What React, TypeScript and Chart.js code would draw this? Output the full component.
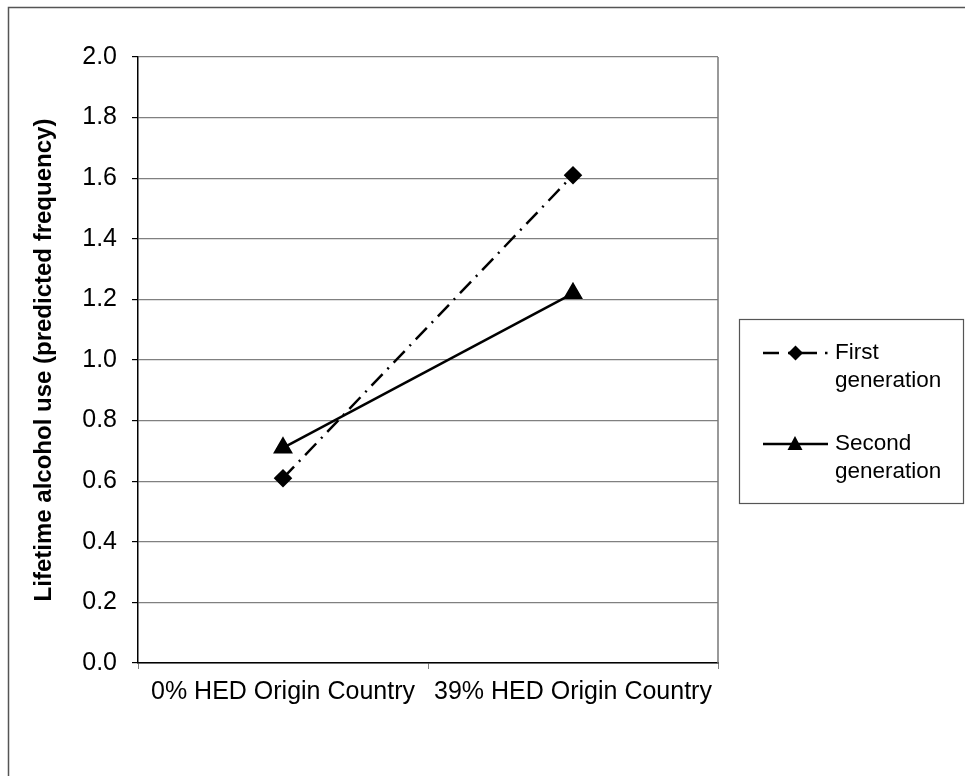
import React, { useEffect, useRef } from "react";
import { Chart, registerables } from "chart.js";

Chart.register(...registerables);

const categories = ["0% HED Origin Country", "39% HED Origin Country"];
const firstGeneration = [0.61, 1.61];
const secondGeneration = [0.71, 1.22];
const yTicks = [0, 0.2, 0.4, 0.6, 0.8, 1.0, 1.2, 1.4, 1.6, 1.8, 2.0];
const seriesNames = ["First generation", "Second generation"];
const yTitle = "Lifetime alcohol use (predicted frequency)";

const FONT = "'Liberation Sans', Arial, sans-serif";

export default function App() {
  const ref = useRef<HTMLCanvasElement | null>(null);

  useEffect(() => {
    const canvas = ref.current;
    if (!canvas) return;

    const decor = {
      id: "decor",
      afterDraw(chart: any) {
        const ctx = chart.ctx;
        const a = chart.chartArea;
        ctx.save();
        // outer frame (top and left visible)
        ctx.strokeStyle = "#555";
        ctx.lineWidth = 1.5;
        ctx.beginPath();
        ctx.moveTo(8.5, 800);
        ctx.lineTo(8.5, 7.5);
        ctx.lineTo(1000, 7.5);
        ctx.stroke();
        // plot right border
        ctx.strokeStyle = "#777";
        ctx.lineWidth = 1.5;
        ctx.beginPath();
        ctx.moveTo(a.right, a.top);
        ctx.lineTo(a.right, a.bottom);
        ctx.stroke();

        // legend box
        const lx = 739, ly = 319, lw = 224, lh = 184;
        ctx.strokeStyle = "#555";
        ctx.lineWidth = 1.2;
        ctx.strokeRect(lx + 0.5, ly + 0.5, lw, lh);

        ctx.fillStyle = "#000";
        ctx.font = `22.5px ${FONT}`;
        ctx.textBaseline = "middle";
        ctx.textAlign = "left";

        // first generation entry: dash, diamond over dash, dot
        const y1 = 353;
        ctx.strokeStyle = "#000";
        ctx.lineWidth = 2.5;
        ctx.beginPath();
        ctx.moveTo(763, y1);
        ctx.lineTo(779, y1);
        ctx.moveTo(788, y1);
        ctx.lineTo(817, y1);
        ctx.moveTo(825, y1);
        ctx.lineTo(827.5, y1);
        ctx.stroke();
        ctx.beginPath();
        ctx.moveTo(795.5, y1 - 7.5);
        ctx.lineTo(803, y1);
        ctx.lineTo(795.5, y1 + 7.5);
        ctx.lineTo(788, y1);
        ctx.closePath();
        ctx.fill();
        const parts1 = seriesNames[0].split(" ");
        ctx.fillText(parts1[0], 835, y1);
        ctx.fillText(parts1[1], 835, y1 + 28);

        // second generation entry
        const y2 = 444;
        ctx.beginPath();
        ctx.moveTo(763, y2);
        ctx.lineTo(828, y2);
        ctx.stroke();
        ctx.beginPath();
        ctx.moveTo(795, y2 - 8);
        ctx.lineTo(802.5, y2 + 6);
        ctx.lineTo(787.5, y2 + 6);
        ctx.closePath();
        ctx.fill();
        const parts2 = seriesNames[1].split(" ");
        ctx.fillText(parts2[0], 835, y2);
        ctx.fillText(parts2[1], 835, y2 + 28);
        ctx.restore();
      },
    };

    const chart = new Chart(canvas, {
      type: "line",
      data: {
        labels: categories,
        datasets: [
          {
            label: seriesNames[0],
            data: firstGeneration,
            borderColor: "#000",
            backgroundColor: "#000",
            borderWidth: 2.5,
            borderDash: [16, 7, 2, 7],
            pointStyle: "rectRot",
            pointRadius: 7.5,
            pointHoverRadius: 7.5,
            tension: 0,
          },
          {
            label: seriesNames[1],
            data: secondGeneration,
            borderColor: "#000",
            backgroundColor: "#000",
            borderWidth: 2.5,
            pointStyle: "triangle",
            pointRadius: 9,
            pointHoverRadius: 9,
            tension: 0,
          },
        ],
      },
      options: {
        responsive: false,
        animation: false,
        devicePixelRatio: 1,
        layout: { padding: { left: 0, top: 57, right: 247, bottom: 0 } },
        plugins: {
          legend: { display: false },
          tooltip: { enabled: false },
        },
        scales: {
          x: {
            type: "category",
            offset: true,
            grid: {
              offset: true,
              drawOnChartArea: false,
              drawTicks: true,
              tickLength: 6,
              tickColor: "#808080",
              color: "#808080",
            },
            border: { color: "#000", width: 1.5 },
            ticks: {
              color: "#000",
              font: { family: FONT, size: 25 },
              padding: 8,
              maxRotation: 0,
              autoSkip: false,
            },
            afterFit(scale: any) {
              scale.height = 113;
            },
          },
          y: {
            min: 0,
            max: 2,
            afterBuildTicks(scale: any) {
              scale.ticks = yTicks.map((v) => ({ value: v }));
            },
            grid: {
              color: "#808080",
              lineWidth: 1.2,
              tickColor: "#000",
              tickLength: 6,
            },
            border: { color: "#000", width: 1.5 },
            ticks: {
              color: "#000",
              font: { family: FONT, size: 25 },
              padding: 15,
              autoSkip: false,
              callback: (v: any) => Number(v).toFixed(1),
            },
            title: {
              display: true,
              text: yTitle,
              color: "#000",
              font: { family: FONT, size: 24, weight: "bold" },
              padding: { top: 30, bottom: 0 },
            },
            afterFit(scale: any) {
              scale.width = 138;
            },
          },
        },
      },
      plugins: [decor],
    });

    return () => chart.destroy();
  }, []);

  return (
    <div style={{ position: "fixed", left: 0, top: 0, width: 965, height: 776, background: "#fff" }}>
      <canvas ref={ref} width={965} height={776} style={{ width: 965, height: 776, display: "block" }} />
    </div>
  );
}
